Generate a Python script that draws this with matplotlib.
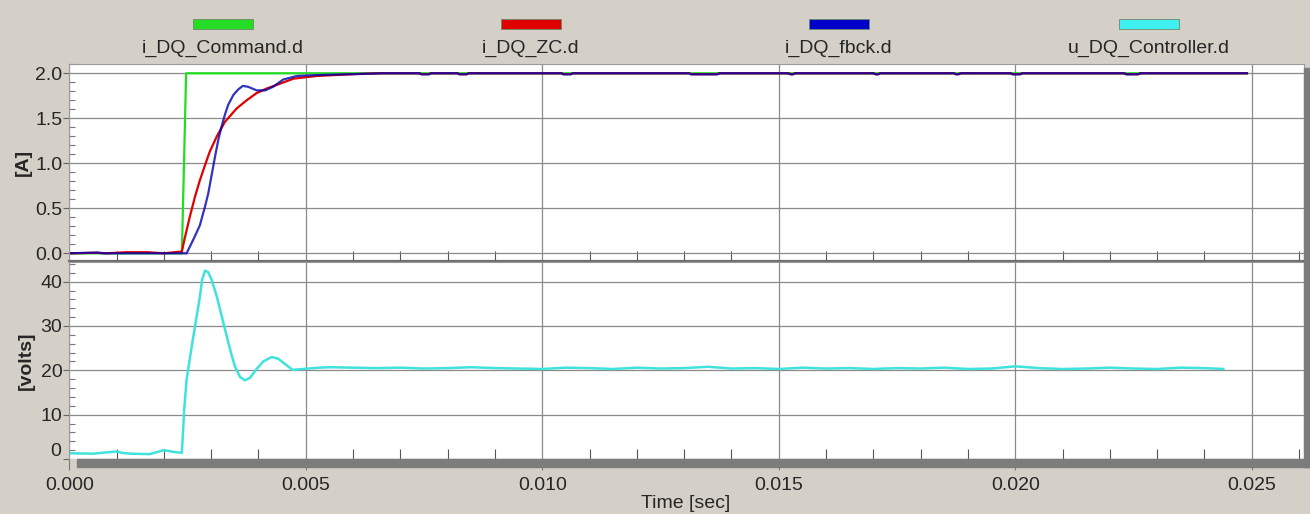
import matplotlib
matplotlib.use("Agg")
import matplotlib.pyplot as plt
from matplotlib.patches import Rectangle
from matplotlib.ticker import MultipleLocator, FixedLocator, FormatStrFormatter

plt.rcParams['font.family'] = ['Liberation Sans', 'DejaVu Sans']

# ---- current loop signals [A] ----
t_cmd = [0.0, 0.00238, 0.00247, 0.0249]
i_cmd = [0.0, 0.0, 2.0, 2.0]

t_zc = [0.0, 0.0006, 0.0008, 0.0012, 0.00165, 0.0020, 0.00238, 0.002446, 0.00255,
        0.002658, 0.00276, 0.00287, 0.00297, 0.00312, 0.00329, 0.00354, 0.00375,
        0.00396, 0.00417, 0.00438, 0.00474, 0.00523, 0.0060, 0.0066,
        0.0074, 0.00745, 0.0076, 0.00765,
        0.0082, 0.00825, 0.0084, 0.00845,
        0.0104, 0.01045, 0.0106, 0.01065,
        0.0131, 0.01315, 0.0137, 0.01375,
        0.0152, 0.01525, 0.0153, 0.01535,
        0.0170, 0.01705, 0.0171, 0.01715,
        0.0187, 0.01875, 0.0188, 0.01885,
        0.0199, 0.01995, 0.0201, 0.02015,
        0.0223, 0.02235, 0.0226, 0.02265,
        0.0249]
i_zc = [0.0, 0.006, 0.0, 0.012, 0.012, 0.0, 0.02, 0.18, 0.41,
        0.63, 0.81, 0.98, 1.13, 1.30, 1.46, 1.61, 1.70,
        1.78, 1.83, 1.87, 1.94, 1.97, 1.99, 2.0,
        2.0, 1.99, 1.99, 2.0,
        2.0, 1.99, 1.99, 2.0,
        2.0, 1.99, 1.99, 2.0,
        2.0, 1.99, 1.99, 2.0,
        2.0, 1.99, 1.99, 2.0,
        2.0, 1.99, 1.99, 2.0,
        2.0, 1.99, 1.99, 2.0,
        2.0, 1.99, 1.99, 2.0,
        2.0, 1.99, 1.99, 2.0,
        2.0]

t_fbck = [0.0, 0.0006, 0.0007, 0.0008, 0.00238, 0.00248, 0.00262, 0.00276, 0.00287,
          0.00294, 0.00301, 0.00308, 0.00315, 0.00322, 0.00329, 0.00336, 0.00347,
          0.00357, 0.00367, 0.00378, 0.00396, 0.00414, 0.00431, 0.00452,
          0.00481, 0.00523, 0.0060, 0.0066,
          0.0074, 0.00745, 0.0076, 0.00765,
          0.0082, 0.00825, 0.0084, 0.00845,
          0.0104, 0.01045, 0.0106, 0.01065,
          0.0131, 0.01315, 0.0137, 0.01375,
          0.0152, 0.01525, 0.0153, 0.01535,
          0.0170, 0.01705, 0.0171, 0.01715,
          0.0187, 0.01875, 0.0188, 0.01885,
          0.0199, 0.01995, 0.0201, 0.02015,
          0.0223, 0.02235, 0.0226, 0.02265,
          0.0249]
i_fbck = [0.0, 0.008, 0.0, 0.0, 0.0, 0.0, 0.15, 0.31, 0.52,
          0.67, 0.87, 1.07, 1.26, 1.41, 1.54, 1.65, 1.76,
          1.82, 1.86, 1.85, 1.81, 1.81, 1.85, 1.93,
          1.97, 1.98, 1.99, 2.0,
          2.0, 1.988, 1.988, 2.0,
          2.0, 1.988, 1.988, 2.0,
          2.0, 1.988, 1.988, 2.0,
          2.0, 1.988, 1.988, 2.0,
          2.0, 1.988, 1.988, 2.0,
          2.0, 1.988, 1.988, 2.0,
          2.0, 1.988, 1.988, 2.0,
          2.0, 1.988, 1.988, 2.0,
          2.0, 1.988, 1.988, 2.0,
          2.0]

# ---- controller output voltage [volts] ----
t_u = [0.0, 0.0005, 0.0010, 0.0011, 0.0013, 0.0017, 0.0020, 0.0022, 0.00238,
       0.00243, 0.00248, 0.00259, 0.00269, 0.00276, 0.00281, 0.00287, 0.00294,
       0.00301, 0.00312, 0.00326, 0.0034, 0.0035, 0.00361, 0.00371, 0.00382,
       0.00396, 0.0041, 0.00428, 0.00442, 0.0046, 0.00472, 0.00493, 0.00529,
       0.0055, 0.0060, 0.0065, 0.0070, 0.0075, 0.0080, 0.0085, 0.0090, 0.0095,
       0.0100, 0.0105, 0.0110, 0.0115, 0.0120, 0.0125, 0.0130, 0.0135, 0.0140,
       0.0145, 0.0150, 0.0155, 0.0160, 0.0165, 0.0170, 0.0175, 0.0180, 0.0185,
       0.0190, 0.0195, 0.0200, 0.0205, 0.0210, 0.0215, 0.0220, 0.0225, 0.0230,
       0.0235, 0.0240, 0.0244]
u_ctrl = [1.3, 1.2, 1.7, 1.4, 1.2, 1.1, 2.0, 1.6, 1.4,
          11.2, 17.9, 25.5, 32.0, 36.5, 40.5, 42.5, 42.1,
          40.4, 36.6, 30.6, 24.7, 20.9, 18.5, 17.75, 18.3,
          20.3, 22.0, 23.0, 22.6, 21.1, 20.1, 20.3, 20.6,
          20.7, 20.6, 20.5, 20.6, 20.4, 20.5, 20.7, 20.5, 20.4,
          20.3, 20.6, 20.5, 20.3, 20.6, 20.4, 20.5, 20.8, 20.4,
          20.5, 20.3, 20.6, 20.4, 20.5, 20.3, 20.5, 20.4, 20.6,
          20.3, 20.4, 20.9, 20.5, 20.3, 20.4, 20.6, 20.4, 20.3,
          20.6, 20.5, 20.3]

labels = ['i_DQ_Command.d', 'i_DQ_ZC.d', 'i_DQ_fbck.d', 'u_DQ_Controller.d']
colors = ['#22dd22', '#e00000', '#0000b4', '#3fe3dc']
patch_colors = ['#26dd26', '#e00000', '#0000c8', '#3ff0f0']

W, H = 1310, 514
bg = '#d4d0c8'
grid_c = '#8a8a8a'
txt_c = '#262626'
fs = 14

fig = plt.figure(figsize=(W / 100, H / 100), dpi=100, facecolor=bg)


def fx(px):
    return px / W


def fy(py):
    return 1 - py / H


x0, x1 = 69.3, 1304
ax1 = fig.add_axes([fx(x0), fy(261), fx(x1 - x0), (261 - 64) / H])
ax2 = fig.add_axes([fx(x0), fy(459), fx(x1 - x0), (459 - 262) / H])

xmax = (x1 - x0) / 47.296 * 0.001

for ax in (ax1, ax2):
    ax.set_facecolor('white')
    ax.set_xlim(0, xmax)
    ax.xaxis.set_major_locator(MultipleLocator(0.005))
    ax.xaxis.set_minor_locator(FixedLocator([k * 0.001 for k in range(1, 27) if k % 5]))
    ax.grid(True, which='major', color=grid_c, lw=0.9)
    ax.set_axisbelow(True)
    for s in ('left', 'top', 'right'):
        ax.spines[s].set_color('#9a9a9a')
        ax.spines[s].set_linewidth(0.8)
    ax.tick_params(axis='x', which='minor', direction='in', length=7, width=0.8,
                   color='#555555')
    ax.tick_params(axis='y', which='major', direction='out', length=4, width=0.8,
                   color='#666666', labelsize=fs, labelcolor=txt_c, pad=1)
    ax.tick_params(axis='y', which='minor', direction='in', length=4.5, width=0.8,
                   color='#777777')

# top panel: currents
ax1.plot(t_cmd, i_cmd, color=colors[0], lw=1.6)
ax1.plot(t_zc, i_zc, color=colors[1], lw=1.6)
ax1.plot(t_fbck, i_fbck, color=colors[2], lw=1.6, alpha=0.8)
ax1.set_ylim(-0.0856, 2.103)
ax1.yaxis.set_major_locator(MultipleLocator(0.5))
ax1.yaxis.set_minor_locator(MultipleLocator(0.1))
ax1.yaxis.set_major_formatter(FormatStrFormatter('%.1f'))
ax1.tick_params(axis='x', which='major', length=0, labelbottom=False)
ax1.spines['bottom'].set_color('#707070')
ax1.spines['bottom'].set_linewidth(1.6)

# bottom panel: voltage
ax2.plot(t_u, u_ctrl, color=colors[3], lw=1.8)
ax2.set_ylim(0.0, 44.43)
ax2.set_yticks([0, 10, 20, 30, 40])
ax2.set_yticklabels(['', '10', '20', '30', '40'])
ax2.yaxis.set_minor_locator(MultipleLocator(2))
ax2.annotate('0', xy=(0, 0), xycoords=('axes fraction', 'data'),
             xytext=(-6, 5.5), textcoords='offset points', ha='right', va='center',
             fontsize=fs, color=txt_c)
ax2.spines['bottom'].set_visible(False)
ax2.tick_params(axis='x', which='major', direction='out', length=8, width=0.8,
                color='#777777', labelsize=fs, labelcolor=txt_c, pad=5)
ax2.xaxis.set_major_formatter(FormatStrFormatter('%.3f'))

# shadow bars beneath and to the right of the plot area
fig.patches.append(Rectangle((fx(77), fy(466.5)), fx(W - 77), 7.5 / H,
                             transform=fig.transFigure, color='#7c7c7c', zorder=0.5))
fig.patches.append(Rectangle((fx(1304), fy(466.5)), fx(6), (466.5 - 68) / H,
                             transform=fig.transFigure, color='#7c7c7c', zorder=0.5))

# axis titles
fig.text(fx(23), fy(162.5), '[A]', rotation=90, ha='center', va='center',
         fontsize=fs, fontweight='bold', color=txt_c)
fig.text(fx(26), fy(360.5), '[volts]', rotation=90, ha='center', va='center',
         fontsize=fs, fontweight='bold', color=txt_c)
fig.text(fx(686), fy(503), 'Time [sec]', ha='center', va='center',
         fontsize=fs, color=txt_c)

# legend row
centers = [223, 531, 839, 1149]
for cx, lab, pc in zip(centers, labels, patch_colors):
    fig.patches.append(Rectangle((fx(cx - 30), fy(29)), fx(60), 10 / H,
                                 transform=fig.transFigure, facecolor=pc,
                                 edgecolor='#6a8a6a', lw=0.6))
    fig.text(fx(cx), fy(48), lab, ha='center', va='center', fontsize=fs, color=txt_c)

fig.savefig('out.png', dpi=100, facecolor=bg)
